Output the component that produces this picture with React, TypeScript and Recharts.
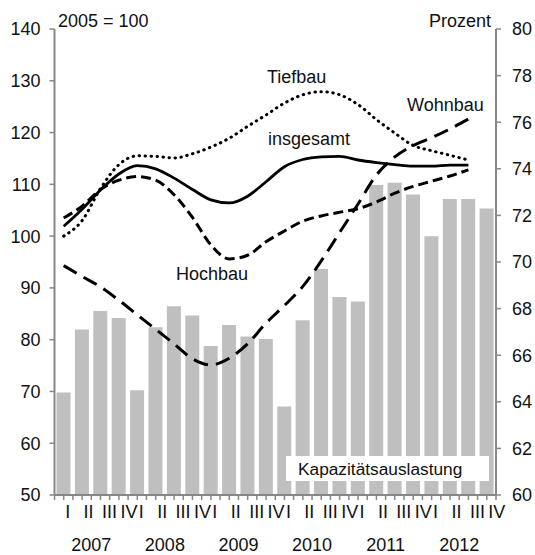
import React from "react";
import { ComposedChart, Bar, Line, XAxis, YAxis } from "recharts";

const years = ["2007", "2008", "2009", "2010", "2011", "2012"];
const quarters = ["I", "II", "III", "IV"];

// Kapazitätsauslastung (Prozent, rechte Achse)
const capacity = [
  64.4, 67.1, 67.9, 67.6,
  64.5, 67.2, 68.1, 67.7,
  66.4, 67.3, 66.8, 66.7,
  63.8, 67.5, 69.7, 68.5,
  68.3, 73.3, 73.4, 72.9,
  71.1, 72.7, 72.7, 72.3,
];

// Indizes 2005 = 100 (linke Achse)
const insgesamt = [
  101.9, 105.2, 108.9, 112.0,
  113.6, 113.0, 111.2, 109.0,
  107.0, 106.4, 107.7, 110.5,
  113.4, 114.8, 115.3, 115.4,
  114.7, 114.2, 113.8, 113.5,
  113.5, 113.7, 113.7, null,
];
const tiefbau = [
  100.0, 103.0, 109.2, 113.8,
  115.5, 115.4, 115.1, 115.9,
  117.2, 118.9, 121.2, 123.4,
  125.7, 127.3, 127.9, 127.3,
  125.4, 122.5, 119.9, 117.5,
  116.5, 115.6, 114.7, null,
];
const hochbau = [
  103.5, 105.8, 109.0, 110.8,
  111.5, 110.8, 108.0, 103.6,
  98.3, 95.6, 96.3, 98.9,
  101.0, 102.9, 103.9, 104.6,
  105.3, 106.6, 108.3, 109.6,
  110.6, 111.6, 112.8, null,
];
const wohnbau = [
  94.3, 92.2, 90.2, 87.6,
  84.8, 82.0, 79.2, 76.3,
  75.1, 76.4, 79.2, 83.2,
  86.6, 90.3, 95.2, 100.7,
  106.2, 111.8, 115.3, 117.5,
  119.0, 120.7, 122.6, null,
];

const leftTicks = [50, 60, 70, 80, 90, 100, 110, 120, 130, 140];
const rightTicks = [60, 62, 64, 66, 68, 70, 72, 74, 76, 78, 80];

const data = years.flatMap((y, yi) =>
  quarters.map((q, qi) => {
    const i = yi * 4 + qi;
    return {
      key: `${y} ${q}`,
      capacity: capacity[i],
      insgesamt: insgesamt[i],
      tiefbau: tiefbau[i],
      hochbau: hochbau[i],
      wohnbau: wohnbau[i],
    };
  })
);

const FONT = "'Liberation Sans', Arial, sans-serif";
const AXIS = "#878787";
const W = 535;
const H = 555;
const M = { top: 29, right: 0, bottom: 0, left: 0 };
const LEFT_W = 54.5;
const RIGHT_W = 39;
const XH = 60;
const BAND = (W - LEFT_W - RIGHT_W) / data.length;

function XTick(props: any) {
  const { x, y, payload } = props;
  const [year, q] = String(payload.value).split(" ");
  const last = payload.value === data[data.length - 1].key;
  return (
    <g>
      <line x1={x} y1={y} x2={x} y2={y + 5} stroke={AXIS} strokeWidth={1.5} />
      <line x1={x - BAND / 2} y1={y} x2={x - BAND / 2} y2={y + 5} stroke={AXIS} strokeWidth={1.5} />
      {last && (
        <line x1={x + BAND / 2} y1={y} x2={x + BAND / 2} y2={y + 5} stroke={AXIS} strokeWidth={1.5} />
      )}
      <text x={x + 1.5} y={y + 23} textAnchor="start" fontSize={18} fontFamily={FONT} fill="#111">
        {q}
      </text>
      {q === "II" && (
        <text x={x + BAND / 2} y={y + 56} textAnchor="middle" fontSize={18} fontFamily={FONT} fill="#111">
          {year}
        </text>
      )}
    </g>
  );
}

const tickStyle = { fontSize: 18, fontFamily: FONT, fill: "#111" };

export default function App() {
  return (
    <div style={{ position: "absolute", left: 0, top: 0, width: W, height: H, background: "#fff" }}>
      <ComposedChart width={W} height={H} data={data} margin={M}>
        <XAxis
          dataKey="key"
          height={XH}
          tick={<XTick />}
          tickLine={false}
          tickSize={0}
          tickMargin={0}
          interval={0}
          axisLine={{ stroke: AXIS, strokeWidth: 2 }}
        />
        <YAxis
          yAxisId="left"
          orientation="left"
          width={LEFT_W}
          domain={[50, 140]}
          ticks={leftTicks}
          interval={0}
          tick={tickStyle}
          tickSize={5}
          tickMargin={9}
          tickLine={{ stroke: AXIS, strokeWidth: 1.5 }}
          axisLine={{ stroke: AXIS, strokeWidth: 2 }}
        />
        <YAxis
          yAxisId="right"
          orientation="right"
          width={RIGHT_W}
          domain={[60, 80]}
          ticks={rightTicks}
          interval={0}
          tick={tickStyle}
          tickSize={5}
          tickMargin={11}
          tickLine={{ stroke: AXIS, strokeWidth: 1.5 }}
          axisLine={{ stroke: AXIS, strokeWidth: 2 }}
        />
        <Bar yAxisId="right" dataKey="capacity" fill="#bfbfbf" barSize={14} isAnimationActive={false} />
        <Line
          yAxisId="left"
          type="monotone"
          dataKey="wohnbau"
          stroke="#000"
          strokeWidth={3}
          strokeDasharray="15 8"
          dot={false}
          activeDot={false}
          isAnimationActive={false}
        />
        <Line
          yAxisId="left"
          type="monotone"
          dataKey="hochbau"
          stroke="#000"
          strokeWidth={3}
          strokeDasharray="10 5"
          dot={false}
          activeDot={false}
          isAnimationActive={false}
        />
        <Line
          yAxisId="left"
          type="monotone"
          dataKey="tiefbau"
          stroke="#000"
          strokeWidth={3}
          strokeDasharray="0.5 5.5"
          strokeLinecap="round"
          dot={false}
          activeDot={false}
          isAnimationActive={false}
        />
        <Line
          yAxisId="left"
          type="monotone"
          dataKey="insgesamt"
          stroke="#000"
          strokeWidth={2.8}
          dot={false}
          activeDot={false}
          isAnimationActive={false}
        />
      </ComposedChart>
      <svg
        width={W}
        height={H}
        style={{ position: "absolute", left: 0, top: 0, pointerEvents: "none" }}
        fontFamily={FONT}
        fontSize={18}
        fill="#111"
      >
        <text x={58} y={27}>2005 = 100</text>
        <text x={491} y={27} textAnchor="end">Prozent</text>
        <text x={267} y={83}>Tiefbau</text>
        <text x={407} y={111}>Wohnbau</text>
        <text x={268} y={145}>insgesamt</text>
        <text x={176} y={280}>Hochbau</text>
        <rect x={286} y={456} width={203} height={25} fill="#fff" />
        <text x={298} y={474.5} fontSize={17.3}>Kapazitätsauslastung</text>
      </svg>
    </div>
  );
}
